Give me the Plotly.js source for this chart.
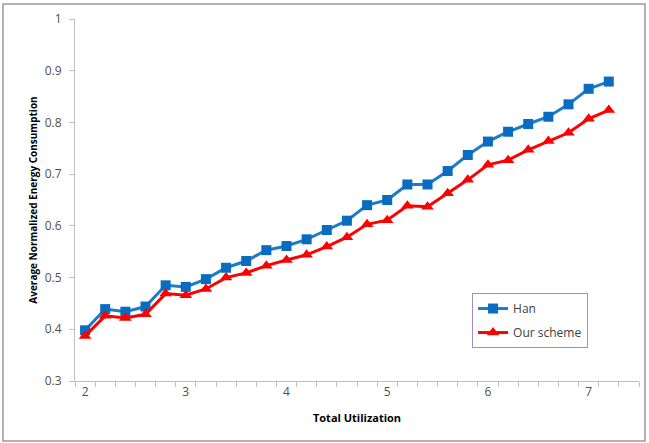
<!DOCTYPE html>
<html>
<head>
<meta charset="utf-8">
<script src="https://cdn.plot.ly/plotly-3.0.1.min.js"></script>
<style>html,body{margin:0;padding:0;background:#fff;}#chart{width:649px;height:443px;}</style>
</head>
<body>
<div id="chart"></div>
<script>
const utilization = [2.0,2.2,2.4,2.6,2.8,3.0,3.2,3.4,3.6,3.8,4.0,4.2,4.4,4.6,4.8,5.0,5.2,5.4,5.6,5.8,6.0,6.2,6.4,6.6,6.8,7.0,7.2];
const hanValues = [0.398,0.439,0.434,0.444,0.485,0.482,0.497,0.519,0.532,0.553,0.561,0.574,0.592,0.610,0.640,0.650,0.680,0.680,0.706,0.737,0.763,0.782,0.797,0.811,0.835,0.865,0.879];
const ourValues = [0.387,0.426,0.422,0.429,0.469,0.466,0.478,0.500,0.509,0.523,0.534,0.544,0.560,0.578,0.603,0.611,0.639,0.637,0.663,0.689,0.718,0.727,0.747,0.764,0.780,0.807,0.824];
const xTickVals = [2,3,4,5,6,7];
const xTickText = ['2','3','4','5','6','7'];

const traces = [
  {x: utilization, y: hanValues, name: 'Han', type: 'scatter', mode: 'lines+markers',
   legendgroup: 'a',
   line: {color: '#1b7dc9', width: 3}, marker: {symbol: 'square', size: 10, color: '#0a6cc0'}},
  {x: utilization, y: ourValues, name: 'Our scheme', type: 'scatter', mode: 'lines+markers',
   legendgroup: 'b',
   line: {color: '#ff0000', width: 3}, marker: {symbol: 'triangle-up', size: 11, color: '#ff0000'}}
];

const fam = '"Open Sans", "Liberation Sans", sans-serif';
const tickFont = {family: fam, size: 12, color: '#505050'};

const layout = {
  width: 649, height: 443,
  margin: {l: 75, r: 10, t: 19, b: 62},
  paper_bgcolor: '#fff', plot_bgcolor: '#fff',
  font: {family: fam, size: 11, color: '#404040'},
  showlegend: true,
  legend: {x: 0.704, y: 0.243, xanchor: 'left', yanchor: 'top',
           bgcolor: '#fff', bordercolor: '#a18fbf', borderwidth: 1,
           traceorder: 'grouped', tracegroupgap: 5,
           font: {family: fam, size: 12, color: '#404040'}},
  xaxis: {
    range: [1.9, 7.5], tickmode: 'array', tickvals: xTickVals, ticktext: xTickText,
    ticks: '', showgrid: false, zeroline: false,
    showline: true, linecolor: '#bfbfbf', linewidth: 1,
    minor: {tickmode: 'linear', tick0: 1.9, dtick: 0.2, ticks: 'outside', ticklen: 5, tickcolor: '#bfbfbf', showgrid: false},
    tickfont: tickFont,
    title: {text: 'Total Utilization', font: {family: fam, size: 11, color: '#000', weight: 'bold'}, standoff: 14}
  },
  yaxis: {
    range: [0.3, 1.0], tickmode: 'linear', tick0: 0.3, dtick: 0.1,
    ticks: 'outside', ticklen: 5, tickcolor: '#bfbfbf', ticklabelstandoff: 5,
    showgrid: false, zeroline: false,
    showline: true, linecolor: '#bfbfbf', linewidth: 1,
    tickfont: tickFont,
    title: {text: 'Average Normalized Energy Consumption', font: {family: fam, size: 10, color: '#000', weight: 'bold'}, standoff: 5}
  },
  shapes: [
    {type: 'rect', xref: 'paper', yref: 'paper', x0: -0.1277, x1: 1.0106, y0: -0.1657, y1: 1.0414,
     line: {color: '#999', width: 1.5}, fillcolor: 'rgba(0,0,0,0)', layer: 'below'}
  ]
};

Plotly.newPlot('chart', traces, layout, {displayModeBar: false, staticPlot: true});
</script>
</body>
</html>
